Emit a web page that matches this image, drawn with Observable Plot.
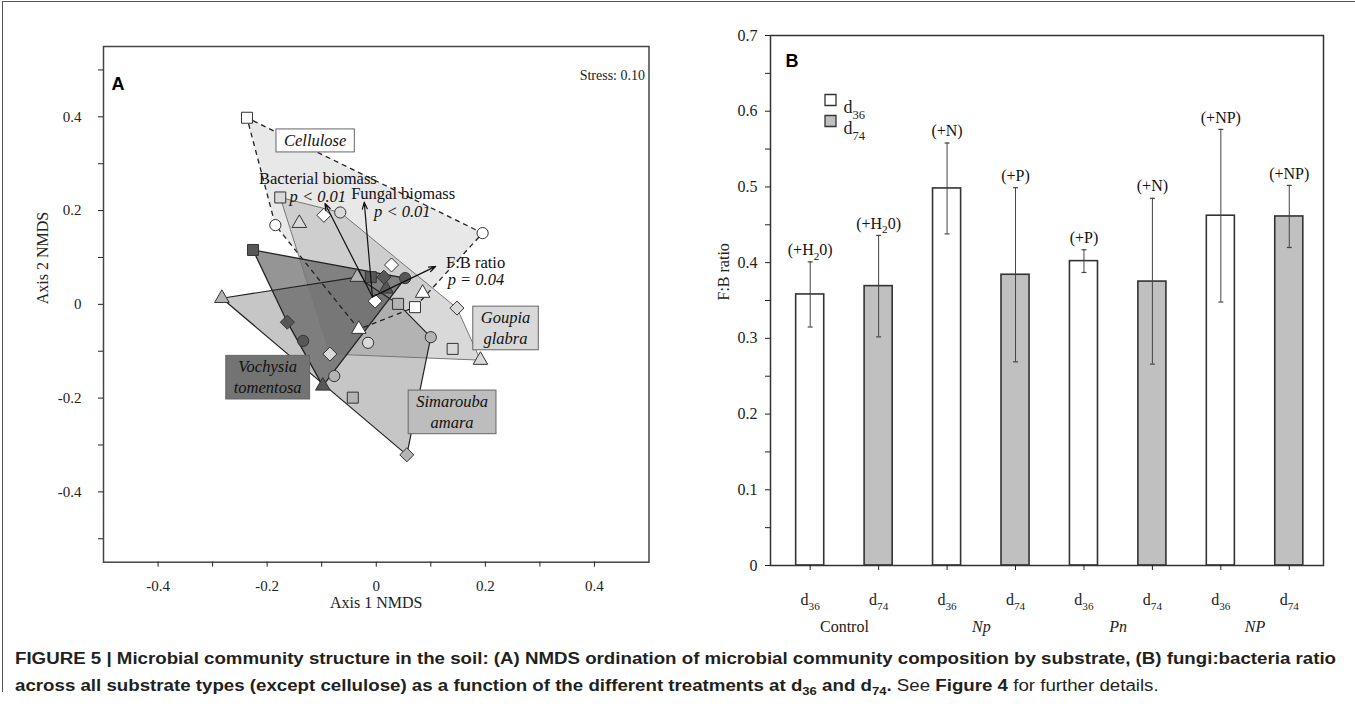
<!DOCTYPE html>
<html><head><meta charset="utf-8">
<script src="https://cdn.jsdelivr.net/npm/d3@7"></script>
<script src="https://cdn.jsdelivr.net/npm/@observablehq/plot@0.6"></script>
<style>
body{margin:0;background:#fff;}
#fig{position:relative;width:1355px;height:708px;overflow:hidden;background:#fff;}
#border{position:absolute;left:2px;top:1px;width:1400px;height:690px;border-left:1.5px solid #555;border-top:1.5px solid #555;}
#a{position:absolute;left:0;top:0;}
#b{position:absolute;left:680px;top:0;}
#cap{position:absolute;left:15px;top:645px;font-family:"Liberation Sans",Arial,sans-serif;font-size:16px;line-height:27px;color:#231f20;white-space:nowrap;transform-origin:0 0;}
#cap sub{font-size:70%;line-height:0;}
</style></head>
<body>
<div id="fig">
  <div id="border"></div>
  <div id="a"></div>
  <div id="b"></div>
  <div id="cap"><span id="l1"><b>FIGURE 5 | Microbial community structure in the soil: (A) NMDS ordination of microbial community composition by substrate, (B) fungi:bacteria ratio</b></span><br><b>across all substrate types (except cellulose) as a function of the different treatments at d<sub>36</sub> and d<sub>74</sub>.</b> See <b>Figure 4</b> for further details.</div>
</div>
<script>
// ---------------- Panel A data: NMDS scores [axis1, axis2, treatment] ----------------
const cellulose = [
  [-0.237, 0.398, "Control"], [0.071, -0.006, "Control"],
  [-0.185, 0.169, "Np"], [0.195, 0.152, "Np"],
  [0.085, 0.024, "Pn"], [-0.032, -0.053, "Pn"],
  [-0.096, 0.190, "NP"], [0.028, 0.084, "NP"], [-0.002, 0.007, "NP"]
];
const goupia = [
  [-0.176, 0.228, "Control"], [0.140, -0.095, "Control"],
  [-0.066, 0.196, "Np"], [-0.015, -0.082, "Np"],
  [-0.141, 0.173, "Pn"], [0.191, -0.119, "Pn"],
  [0.148, -0.008, "NP"], [-0.085, -0.106, "NP"]
];
const simarouba = [
  [0.040, 0.001, "Control"], [-0.043, -0.199, "Control"],
  [0.100, -0.070, "Np"], [-0.077, -0.153, "Np"],
  [-0.283, 0.013, "Pn"], [-0.035, 0.058, "Pn"],
  [0.056, -0.321, "NP"]
];
const vochysia = [
  [-0.226, 0.116, "Control"], [-0.010, 0.058, "Control"],
  [-0.134, -0.078, "Np"], [0.053, 0.056, "Np"],
  [-0.098, -0.174, "Pn"], [0.018, 0.033, "Pn"],
  [-0.163, -0.038, "NP"], [0.014, 0.058, "NP"]
];
const substrateNames = ["Cellulose", "Goupia\nglabra", "Simarouba\namara", "Vochysia\ntomentosa"];
const substrateLabelXY = [[-0.112, 0.352], [0.237, -0.048], [0.139, -0.227], [-0.199, -0.153]];
const vectorNames = ["Bacterial biomass", "Fungal biomass", "F:B ratio"];
const vectorP = ["p < 0.01", "p < 0.01", "p = 0.04"];
const vectorEnd = [[-0.094, 0.215], [-0.022, 0.218], [0.109, 0.081]];
const vectorOrigin = [-0.007, 0.016];
const vectorNameXY = [[-0.215, 0.268], [-0.046, 0.236], [0.128, 0.088]];
const vectorPXY = [[-0.159, 0.229], [-0.004, 0.197], [0.131, 0.052]];
const stressText = "Stress: 0.10";
const nmdsMajor = [-0.4, -0.2, 0, 0.2, 0.4];
const nmdsMinorX = [-0.3, -0.1, 0.1, 0.3];
const nmdsMinorY = [-0.5, -0.3, -0.1, 0.1, 0.3, 0.5];

// ---------------- Panel B data ----------------
const treatments = ["Control", "Np", "Pn", "NP"];
const dayLabels = ["d_{36}", "d_{74}"];
const fbMean = [0.358, 0.369, 0.498, 0.384, 0.402, 0.375, 0.462, 0.461];
const fbLow  = [0.315, 0.302, 0.438, 0.269, 0.387, 0.266, 0.348, 0.420];
const fbHigh = [0.401, 0.436, 0.558, 0.499, 0.417, 0.485, 0.576, 0.502];
const additions = ["(+H_{2}0)", "(+H_{2}0)", "(+N)", "(+P)", "(+P)", "(+N)", "(+NP)", "(+NP)"];
const fbTicks = [0, 0.1, 0.2, 0.3, 0.4, 0.5, 0.6, 0.7];
const fbMinor = [0.05, 0.15, 0.25, 0.35, 0.45, 0.55, 0.65];

// ---------------- styles ----------------
const serif = '"Liberation Serif", "Times New Roman", serif';
const sans = '"Liberation Sans", Arial, sans-serif';
const hullColor = ["#d6d6d6", "#b4b4b4", "#8e8e8e", "#4e4e4e"];
const hullOpacity = [0.55, 0.5, 0.5, 0.6];
const hullStroke = ["#222", "#777", "#222", "#222"];
const hullDash = ["5,4", null, null, null];
const hullWidth = [1.3, 1, 1.2, 1.3];
const symFill = ["#ffffff", "#d9d9d9", "#b4b4b4", "#575757"];
const boxFill = ["#ffffff", "#d9d9d9", "#bdbdbd", "#737373"];
const diamondSym = {draw(ctx, size) {const h = Math.sqrt(size) * 0.66; ctx.moveTo(0, -h); ctx.lineTo(h, 0); ctx.lineTo(0, h); ctx.lineTo(-h, 0); ctx.closePath();}};
const shapeOf = {Control: "square", Np: "circle", Pn: "triangle", NP: diamondSym};
const rOf = {Control: 6.2, Np: 5.6, Pn: 5.4, NP: 6};
const fmt = d => d === 0 ? "0" : d.toFixed(1);

const groupsA = [cellulose, goupia, simarouba, vochysia].map(a => a.map(([x, y, t]) => ({x, y, t})));

const marksA = [];
groupsA.forEach((pts, g) => marksA.push(Plot.hull(pts, {x: "x", y: "y", fill: hullColor[g], fillOpacity: hullOpacity[g], stroke: "none"})));
groupsA.forEach((pts, g) => marksA.push(Plot.hull(pts, {x: "x", y: "y", fill: "none", stroke: hullStroke[g], strokeWidth: hullWidth[g], strokeDasharray: hullDash[g] || undefined})));
groupsA.forEach((pts, g) => {
  for (const t of ["Control", "Np", "Pn", "NP"]) {
    marksA.push(Plot.dot(pts.filter(d => d.t === t), {x: "x", y: "y", symbol: shapeOf[t], r: rOf[t], fill: symFill[g], stroke: "#333", strokeWidth: 1}));
  }
});
const vectors = vectorNames.map((n, i) => ({n, p: vectorP[i], x2: vectorEnd[i][0], y2: vectorEnd[i][1], nx: vectorNameXY[i][0], ny: vectorNameXY[i][1], px: vectorPXY[i][0], py: vectorPXY[i][1]}));
marksA.push(Plot.arrow(vectors, {x1: () => vectorOrigin[0], y1: () => vectorOrigin[1], x2: "x2", y2: "y2", stroke: "#111", strokeWidth: 1.2, headLength: 9, headAngle: 40}));
marksA.push(Plot.text(vectors, {x: "nx", y: "ny", text: "n", textAnchor: "start", fontSize: 16.5, fill: "#111"}));
marksA.push(Plot.text(vectors, {x: "px", y: "py", text: "p", textAnchor: "start", fontSize: 16.5, fontStyle: "italic", fill: "#111"}));
const subLabels = substrateNames.map((s, i) => ({s, x: substrateLabelXY[i][0], y: substrateLabelXY[i][1]}));
marksA.push(Plot.text(subLabels, {x: "x", y: "y", text: "s", fontSize: 16.5, fontStyle: "italic", lineHeight: 1.25, fill: "#111"}));
marksA.push(Plot.frame({stroke: "#444", strokeWidth: 1.5}));
marksA.push(Plot.axisX(nmdsMajor, {tickSize: 5, tickPadding: 13, tickFormat: fmt, fontSize: 15, label: null}));
marksA.push(Plot.axisX(nmdsMinorX, {tickSize: 5, tickFormat: () => "", label: null}));
marksA.push(Plot.axisY(nmdsMajor, {tickSize: 5, tickPadding: 17, tickFormat: fmt, fontSize: 15, label: null}));
marksA.push(Plot.axisY(nmdsMinorY, {tickSize: 5, tickFormat: () => "", label: null}));
marksA.push(Plot.text(["Axis 1 NMDS"], {frameAnchor: "bottom", dy: 46, text: d => d, fontSize: 16}));
marksA.push(Plot.text(["Axis 2 NMDS"], {frameAnchor: "left", dx: -61, rotate: -90, text: d => d, fontSize: 16}));
marksA.push(Plot.text([stressText], {frameAnchor: "top-right", dx: -4, dy: 24, textAnchor: "end", text: d => d, fontSize: 14}));
marksA.push(Plot.text(["A"], {frameAnchor: "top-left", dx: 8, dy: 31, textAnchor: "start", text: d => d, fontSize: 18, fontWeight: "bold", fontFamily: sans, fill: "#000"}));

const plotA = Plot.plot({
  width: 680, height: 640,
  marginLeft: 103, marginRight: 31.5, marginTop: 46, marginBottom: 78.3,
  x: {domain: [-0.5, 0.5]},
  y: {domain: [-0.55, 0.55]},
  style: {fontFamily: serif, fontSize: "16px", color: "#222", background: "transparent", overflow: "visible"},
  marks: marksA
});
document.getElementById("a").appendChild(plotA);

// ---------------- Panel B ----------------
const bars = fbMean.map((v, i) => ({i, v, lo: fbLow[i], hi: fbHigh[i], lab: additions[i], day: i % 2}));
const capHalf = 0.036, halfBar = 0.205;
const marksB = [
  Plot.rectY(bars.filter(d => d.day === 0), {x1: d => d.i - halfBar, x2: d => d.i + halfBar, y1: 0, y2: "v", fill: "#ffffff", stroke: "#333", strokeWidth: 1.6}),
  Plot.rectY(bars.filter(d => d.day === 1), {x1: d => d.i - halfBar, x2: d => d.i + halfBar, y1: 0, y2: "v", fill: "#c0c0c0", stroke: "#333", strokeWidth: 1.6}),
  Plot.ruleX(bars, {x: "i", y1: "lo", y2: "hi", stroke: "#444", strokeWidth: 1}),
  Plot.link(bars, {x1: d => d.i - capHalf, x2: d => d.i + capHalf, y1: "hi", y2: "hi", stroke: "#444", strokeWidth: 1.2}),
  Plot.link(bars, {x1: d => d.i - capHalf, x2: d => d.i + capHalf, y1: "lo", y2: "lo", stroke: "#444", strokeWidth: 1.2}),
  Plot.text(bars, {x: "i", y: "hi", text: "lab", dy: -12, fontSize: 16, fill: "#111"}),
  Plot.frame({stroke: "#333", strokeWidth: 1.5}),
  Plot.axisX(d3.range(fbMean.length), {tickSize: 5, tickPadding: 23, tickFormat: i => dayLabels[i % 2], fontSize: 16, label: null}),
  Plot.axisY(fbTicks, {tickSize: 5, tickPadding: 8, tickFormat: fmt, fontSize: 16, label: null}),
  Plot.axisY(fbMinor, {tickSize: 5, tickFormat: () => "", label: null}),
  Plot.text(treatments.filter((t, i) => i === 0), {x: (d, i) => 0.5, frameAnchor: "bottom", dy: 66, text: d => d, fontSize: 16}),
  Plot.text(treatments.slice(1), {x: (d, i) => 2 * (i + 1) + 0.5, frameAnchor: "bottom", dy: 66, text: d => d, fontSize: 16, fontStyle: "italic"}),
  Plot.text(["F:B ratio"], {frameAnchor: "left", dx: -47, rotate: -90, text: d => d, fontSize: 16}),
  Plot.dot([0], {frameAnchor: "top-left", dx: 60, dy: 64.5, symbol: "square", r: 6.2, fill: "#ffffff", stroke: "#333", strokeWidth: 1.3}),
  Plot.dot([0], {frameAnchor: "top-left", dx: 60, dy: 85.5, symbol: "square", r: 6.2, fill: "#c0c0c0", stroke: "#333", strokeWidth: 1.3}),
  Plot.text([dayLabels[0]], {frameAnchor: "top-left", dx: 73, dy: 65, textAnchor: "start", text: d => d, fontSize: 18}),
  Plot.text([dayLabels[1]], {frameAnchor: "top-left", dx: 73, dy: 86, textAnchor: "start", text: d => d, fontSize: 18}),
  Plot.text(["B"], {frameAnchor: "top-left", dx: 15, dy: 19, textAnchor: "start", text: d => d, fontSize: 18, fontWeight: "bold", fontFamily: sans, fill: "#000"})
];
const plotB = Plot.plot({
  width: 675, height: 640,
  marginLeft: 90, marginRight: 32, marginTop: 35, marginBottom: 75,
  x: {domain: [-0.58, 7.5]},
  y: {domain: [0, 0.7]},
  style: {fontFamily: serif, fontSize: "16px", color: "#222", background: "transparent", overflow: "visible"},
  marks: marksB
});
document.getElementById("b").appendChild(plotB);

// ---------------- post-processing: subscripts & label boxes ----------------
const NS = "http://www.w3.org/2000/svg";
function subify(root) {
  root.querySelectorAll("text, tspan").forEach(t => {
    if (t.children.length) return;
    const s = t.textContent;
    if (!s.includes("_{")) return;
    const fs = parseFloat(getComputedStyle(t).fontSize) || 16;
    const shift = fs * 0.3;
    t.textContent = "";
    let shifted = false;
    for (const p of s.split(/(_\{[^}]*\})/)) {
      if (!p) continue;
      const ts = document.createElementNS(NS, "tspan");
      if (p.startsWith("_{")) {
        ts.textContent = p.slice(2, -1);
        ts.setAttribute("dy", shift);
        ts.setAttribute("font-size", fs * 0.7);
        shifted = true;
      } else {
        ts.textContent = p;
        if (shifted) {ts.setAttribute("dy", -shift); shifted = false;}
      }
      t.appendChild(ts);
    }
  });
}
subify(plotA); subify(plotB);

const flatNames = substrateNames.map(s => s.replace("\n", ""));
plotA.querySelectorAll("text").forEach(t => {
  const i = flatNames.indexOf(t.textContent);
  if (i < 0) return;
  const bb = t.getBBox();
  const r = document.createElementNS(NS, "rect");
  r.setAttribute("x", bb.x - 8); r.setAttribute("y", bb.y - 2);
  r.setAttribute("width", bb.width + 16); r.setAttribute("height", bb.height + 4);
  r.setAttribute("fill", boxFill[i]); r.setAttribute("stroke", "#666"); r.setAttribute("stroke-width", 1);
  const tr = t.getAttribute("transform"); if (tr) r.setAttribute("transform", tr);
  t.parentNode.insertBefore(r, t);
});

const w1 = document.getElementById("l1").getBoundingClientRect().width;
document.getElementById("cap").style.transform = `scaleX(${1321 / w1})`;
</script>
</body></html>
